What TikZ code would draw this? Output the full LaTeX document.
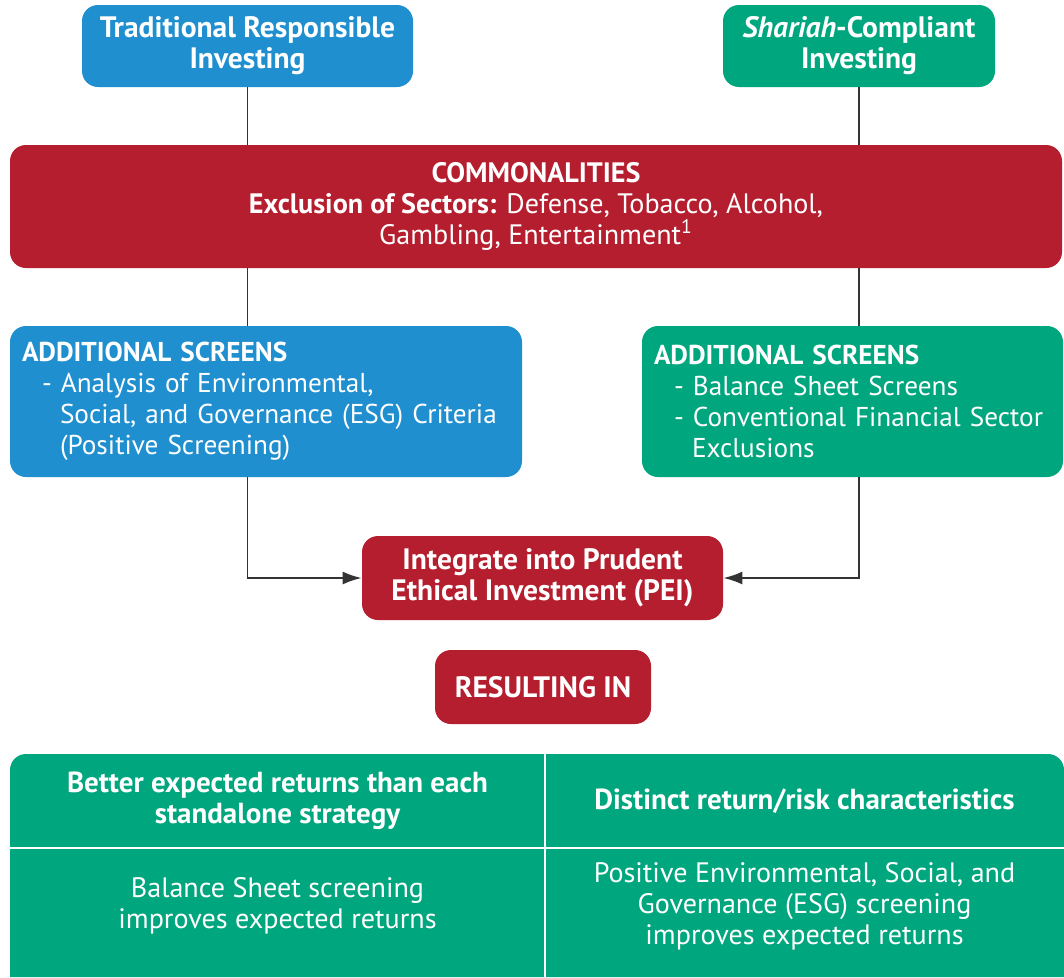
\documentclass[tikz,border=0pt]{standalone}
\usepackage{fontspec}
\setmainfont{PT Sans}
\usetikzlibrary{positioning,arrows.meta}
\definecolor{tribblue}{RGB}{31,143,207}
\definecolor{shgreen}{RGB}{0,166,126}
\definecolor{peired}{RGB}{181,30,46}
\definecolor{linegray}{RGB}{51,51,51}
\tikzset{
        box/.style={
            rectangle, rounded corners=0.32cm,
            text=white, inner sep=0pt, align=center,
            font=\fontsize{16}{17.7}\selectfont
        },
        bigtext/.style={font=\fontsize{16.8}{17.7}\selectfont\bfseries},
        bluebox/.style={box, fill=tribblue},
        greenbox/.style={box, fill=shgreen},
        redbox/.style={box, fill=peired},
        screens/.style={
            box, align=left, inner xsep=0.24cm,
            font=\fontsize{15.5}{17.7}\selectfont
        },
        cell/.style={
            text=white, align=center,
            font=\fontsize{16}{17.7}\selectfont
        },
        headcell/.style={
            cell, font=\fontsize{16.5}{17.7}\selectfont\bfseries
        },
        link/.style={
            draw=linegray, line width=1.1pt
        }
    }

\begin{document}
\begin{tikzpicture}[
    > = {Latex[length=0.38cm,width=0.26cm]},
  ]
    \useasboundingbox (0,0) rectangle (21.28,-19.54);
    \fill[white] (0,0) rectangle (21.28,-19.54);

    % top row
    \node[bluebox, bigtext, minimum width=6.62cm, minimum height=1.64cm] (trad) at (4.95,-0.92)
        {Traditional Responsible\\Investing};
    \node[greenbox, bigtext, minimum width=5.44cm, minimum height=1.64cm] (shariah) at (17.18,-0.92)
        {\textit{Shariah}-Compliant\\Investing};

    % shared exclusions
    \node[redbox, minimum width=21.04cm, minimum height=2.46cm] (common) at (10.72,-4.13)
        {\textbf{COMMONALITIES}\\
         \textbf{Exclusion of Sectors:} Defense, Tobacco, Alcohol,\\
         Gambling, Entertainment\textsuperscript{1}};

    % extra screens per strategy
    \node[screens, fill=tribblue, text width=9.76cm, minimum height=3.02cm] (addtrad) at (5.32,-8.03)
        {\textbf{ADDITIONAL SCREENS}\\
         \hspace*{0.4cm}- Analysis of Environmental,\\
         \hspace*{0.76cm}Social, and Governance (ESG) Criteria\\
         \hspace*{0.76cm}(Positive Screening)};
    \node[screens, fill=shgreen, text width=7.94cm, minimum height=3.02cm] (addshariah) at (17.05,-8.03)
        {\textbf{ADDITIONAL SCREENS}\\
         \hspace*{0.4cm}- Balance Sheet Screens\\
         \hspace*{0.4cm}- Conventional Financial Sector\\
         \hspace*{0.76cm}Exclusions};

    \node[redbox, bigtext, minimum width=7.22cm, minimum height=1.68cm] (pei) at (10.85,-11.56)
        {Integrate into Prudent\\Ethical Investment (PEI)};
    \node[redbox, bigtext, minimum width=4.32cm, minimum height=1.48cm] (result) at (10.86,-13.74)
        {RESULTING IN};

    \path[link]
    (trad) -- (trad |- common.north)
    (shariah) -- (shariah |- common.north)
    (common.south -| trad) -- (addtrad.north -| trad)
    (common.south -| shariah) -- (addshariah.north -| shariah);
    \draw[link, ->] (addtrad.south -| trad) |- (pei.west);
    \draw[link, ->] (addshariah.south -| shariah) |- (pei.east);

    % outcome table
    \fill[shgreen] (0.2,-19.54) [rounded corners=0.32cm] -- (0.2,-15.08)
        -- (21.28,-15.08) [sharp corners] -- (21.28,-19.54) -- cycle;
    \draw[white, line width=1.2pt] (10.9,-15.08) -- (10.9,-19.54);
    \draw[white, line width=1.2pt] (0.2,-16.96) -- (21.28,-16.96);
    \node[headcell] (gain) at (5.55,-16.02)
        {Better expected returns than each\\standalone strategy};
    \node[headcell] (distinct) at (16.09,-16.02)
        {Distinct return/risk characteristics};
    \node[cell] (balance) at (5.55,-18.12)
        {Balance Sheet screening\\improves expected returns};
    \node[cell] (esg) at (16.09,-18.12)
        {Positive Environmental, Social, and\\Governance (ESG) screening\\improves expected returns};

\end{tikzpicture}
\end{document}
